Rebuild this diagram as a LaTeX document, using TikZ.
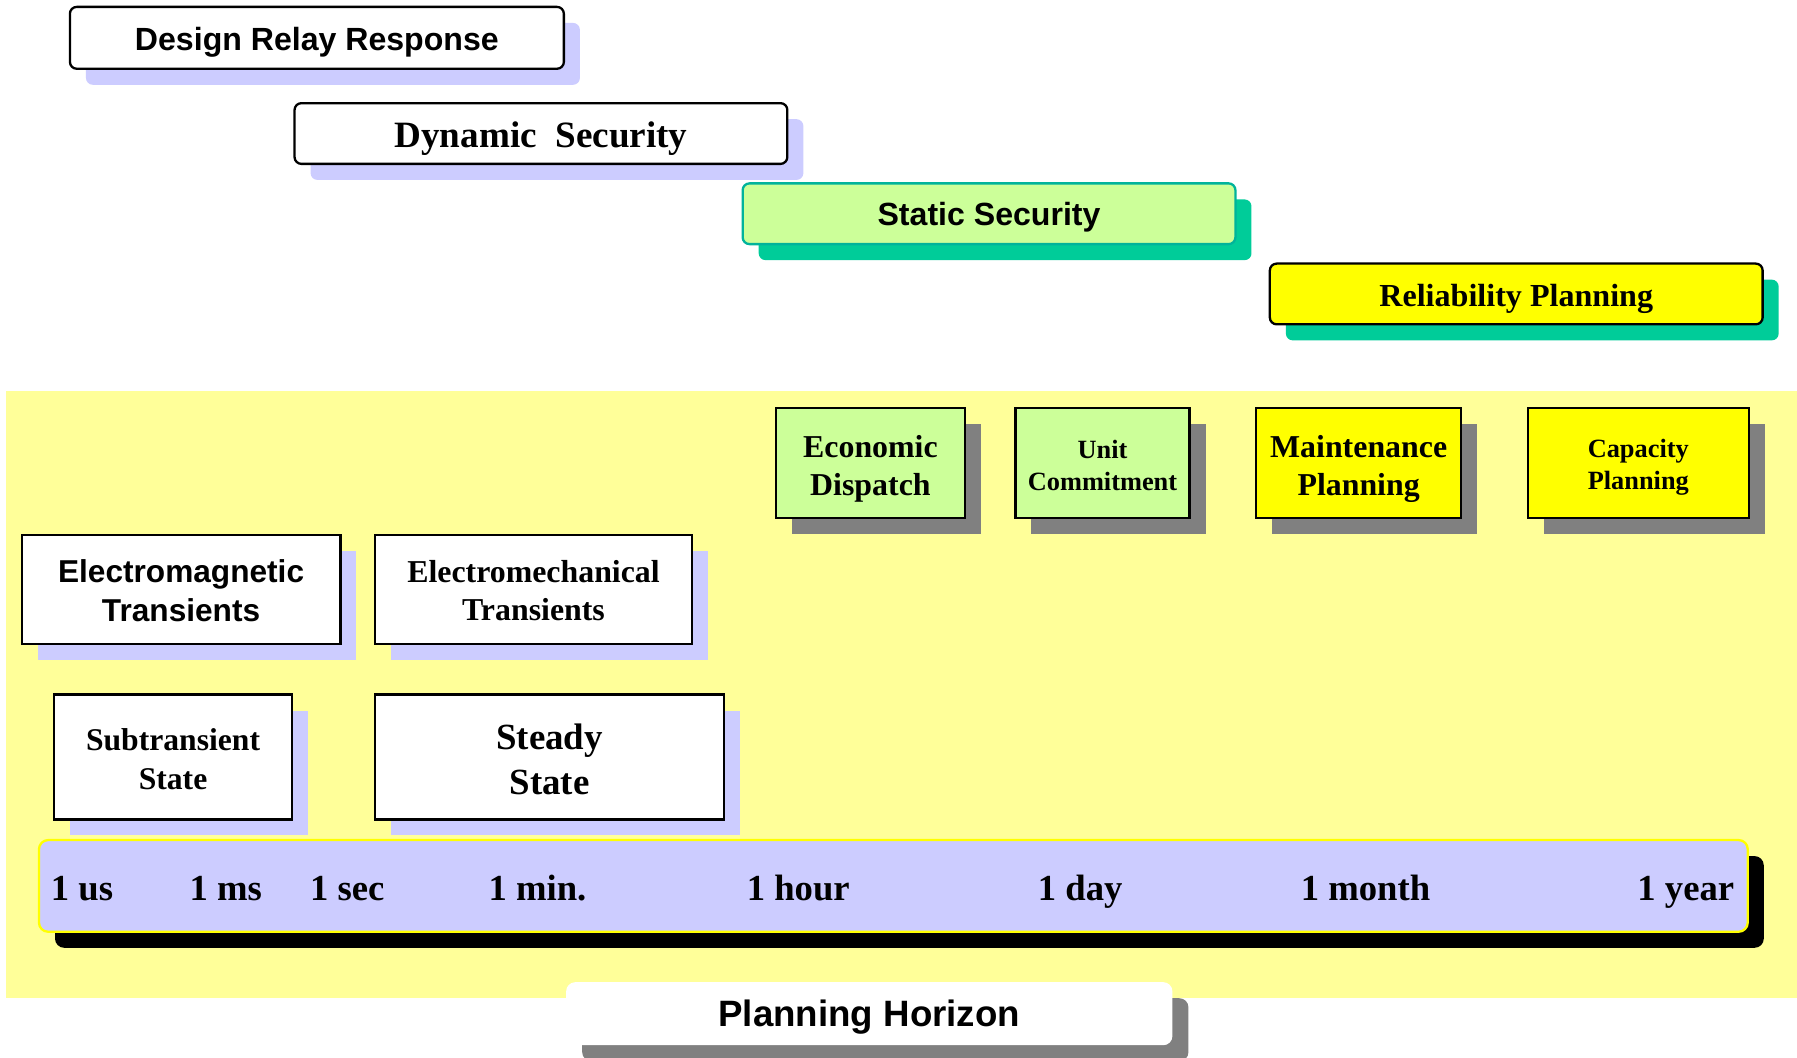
\documentclass[tikz,border=0pt]{standalone}
\usepackage{fontspec}
\setmainfont{Liberation Serif}
\setsansfont{Liberation Sans}
\usetikzlibrary{shadows}
\definecolor{lav}{HTML}{CCCCFF}
\definecolor{paleyel}{HTML}{FFFF99}
\definecolor{lgreen}{HTML}{CCFF99}
\definecolor{tealsh}{HTML}{00CC99}
\definecolor{tealedge}{HTML}{00B39B}
\definecolor{shgray}{HTML}{808080}
\definecolor{yel}{HTML}{FFFF00}
\newcommand{\upstrut}[1]{\rule{0pt}{#1}}
\tikzset{
  box/.style={draw=black, line width=1pt, inner sep=0pt, align=center, text=black},
  rbox/.style={box, rounded corners=3pt},
  sz/.style 2 args={minimum width=#1*0.5pt, minimum height=#2*0.5pt},
  shlav/.style={drop shadow={shadow xshift=7pt, shadow yshift=-7pt, fill=lav, opacity=1}},
  shteal/.style={drop shadow={shadow xshift=7pt, shadow yshift=-7pt, fill=tealsh, opacity=1}},
  shgrey/.style={drop shadow={shadow xshift=7pt, shadow yshift=-7pt, fill=shgray, opacity=1}},
  shblack/.style={drop shadow={shadow xshift=7pt, shadow yshift=-7pt, fill=black, opacity=1}},
  sansb/.style={font=\fontsize{#1}{18}\selectfont\sffamily\bfseries},
  serifb/.style={font=\fontsize{#1}{18}\selectfont\rmfamily\bfseries},
  txtdown/.style={execute at begin node={\rule{0pt}{#1}}},
  tick/.style={anchor=base, font=\fontsize{16}{19}\selectfont\rmfamily\bfseries},
}
\begin{document}
\begin{tikzpicture}[x=0.5pt,y=-0.5pt]
\useasboundingbox (0,0) rectangle (1568,922.3);
\fill[white] (0,0) rectangle (1568,922.3);
% background band
\fill[paleyel] (5,341) rectangle (1568,871);

% top bars
\node[rbox, shlav, fill=white, sz={431}{54}, sansb=14, txtdown=14.2pt] (drr) at (276.5,33) {Design Relay Response};
\node[rbox, shlav, fill=white, sz={430}{53}, serifb=16.2, txtdown=16pt] (dyn) at (472,116.5) {Dynamic\ \ Security};
\node[rbox, shteal, fill=lgreen, draw=tealedge, sz={430}{53}, sansb=14, txtdown=13.2pt] (stat) at (863,186.5) {Static Security};
\node[rbox, shteal, fill=yel, sz={430}{53}, serifb=14, txtdown=13.6pt] (rel) at (1323,256.5) {Reliability Planning};

% planning boxes
\node[box, shgrey, fill=lgreen, sz={165}{96}, font=\fontsize{13.9}{16.5}\selectfont\rmfamily\bfseries] (econ) at (759.5,404) {\upstrut{14.5pt}Economic\\Dispatch};
\node[box, shgrey, fill=lgreen, sz={152}{96}, font=\fontsize{11.5}{14}\selectfont\rmfamily\bfseries] (unit) at (962,404) {\upstrut{9.9pt}Unit\\Commitment};
\node[box, shgrey, fill=yel, sz={179}{96}, font=\fontsize{13.9}{16.5}\selectfont\rmfamily\bfseries] (maint) at (1185.5,404) {\upstrut{14.5pt}Maintenance\\Planning};
\node[box, shgrey, fill=yel, sz={193}{96}, font=\fontsize{11.5}{14}\selectfont\rmfamily\bfseries] (cap) at (1429.5,404) {\upstrut{11.9pt}Capacity\\Planning};

% transient boxes
\node[box, shlav, fill=white, sz={278}{95}, font=\fontsize{13.8}{16.7}\selectfont\sffamily\bfseries] (emag) at (158,514.5) {\upstrut{10.9pt}Electromagnetic\\Transients};
\node[box, shlav, fill=white, sz={277}{95}, font=\fontsize{13.9}{16.7}\selectfont\rmfamily\bfseries] (emech) at (465.5,514.5) {\upstrut{10.7pt}Electromechanical\\Transients};
\node[box, shlav, fill=white, sz={208}{109}, font=\fontsize{13.8}{17}\selectfont\rmfamily\bfseries] (sub) at (151,660.5) {\upstrut{11.5pt}Subtransient\\State};
\node[box, shlav, fill=white, sz={305}{109}, font=\fontsize{16.1}{19.7}\selectfont\rmfamily\bfseries] (steady) at (479.5,660.5) {\upstrut{13.1pt}Steady\\State};

% time axis bar
\node[draw=yel, line width=1pt, rounded corners=4pt, shblack, fill=lav, inner sep=0pt, sz={1491}{80}] (bar) at (779.5,773) {};
\node[tick] (t1) at (71.5,786) {1 us};
\node[tick] (t2) at (197,786) {1 ms};
\node[tick] (t3) at (303,786) {1 sec};
\node[tick] (t4) at (469,786) {1 min.};
\node[tick] (t5) at (696.5,786) {1 hour};
\node[tick] (t6) at (942.5,786) {1 day};
\node[tick] (t7) at (1191.5,786) {1 month};
\node[tick] (t8) at (1471,786) {1 year};

% planning horizon
\node[rounded corners=4pt, shgrey, fill=white, inner sep=0pt, sz={529}{55}, sansb=16, txtdown=14.7pt] (ph) at (758.5,884.5) {Planning Horizon};
\end{tikzpicture}
\end{document}
